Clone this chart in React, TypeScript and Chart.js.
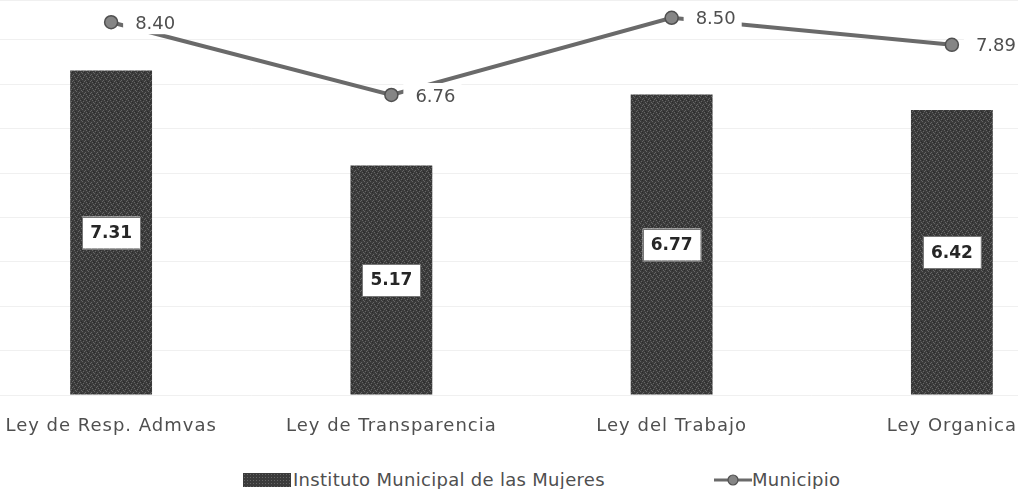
import React, { useEffect, useRef } from "react";
import { Chart, registerables } from "chart.js";

Chart.register(...registerables);

const categories = ["Ley de Resp. Admvas", "Ley de Transparencia", "Ley del Trabajo", "Ley Organica"];
const institutoValues = [7.31, 5.17, 6.77, 6.42];
const municipioValues = [8.4, 6.76, 8.5, 7.89];
const seriesNames = ["Instituto Municipal de las Mujeres", "Municipio"];
const yMin = 0;
const yMax = 8.9;
const yStep = 1;

const FONT = "'DejaVu Sans', sans-serif";
const TEXT_COLOR = "#4f4f4f";
const LINE_COLOR = "#6a6a6a";
const POINT_FILL = "#858585";
const POINT_BORDER = "#505050";

function makeTile(): HTMLCanvasElement {
  const c = document.createElement("canvas");
  c.width = 6;
  c.height = 6;
  const ctx = c.getContext("2d")!;
  ctx.fillStyle = "#3b3b3b";
  ctx.fillRect(0, 0, 6, 6);
  const specks = [
    [0, 1], [2, 4], [3, 0], [5, 3], [1, 5], [4, 2],
  ];
  ctx.fillStyle = "#666666";
  specks.forEach(([sx, sy]) => ctx.fillRect(sx, sy, 1, 1));
  ctx.fillStyle = "#2c2c2c";
  [[1, 2], [4, 5], [5, 0]].forEach(([sx, sy]) => ctx.fillRect(sx, sy, 1, 1));
  return c;
}

const spacing = {
  id: "tickSpacing",
  beforeLayout(chart: any) {
    (chart.ctx as any).letterSpacing = "1px";
  },
  afterLayout(chart: any) {
    (chart.ctx as any).letterSpacing = "0px";
  },
  beforeDraw(chart: any) {
    (chart.ctx as any).letterSpacing = "1px";
  },
  beforeDatasetsDraw(chart: any) {
    (chart.ctx as any).letterSpacing = "0px";
  },
};

const valueLabels = {
  id: "valueLabels",
  afterDatasetsDraw(chart: any) {
    const ctx: CanvasRenderingContext2D = chart.ctx;
    ctx.save();
    (ctx as any).letterSpacing = "0px";
    // bar labels
    const barMeta = chart.getDatasetMeta(0);
    ctx.font = `bold 17px ${FONT}`;
    ctx.textAlign = "center";
    ctx.textBaseline = "middle";
    barMeta.data.forEach((el: any, i: number) => {
      const { x, y, base } = el.getProps(["x", "y", "base"], true);
      const cy = (y + base) / 2;
      const txt = institutoValues[i].toFixed(2);
      const w = ctx.measureText(txt).width + 16;
      const h = 32;
      ctx.fillStyle = "#ffffff";
      ctx.fillRect(x - w / 2, cy - h / 2, w, h);
      ctx.strokeStyle = "#777777";
      ctx.lineWidth = 1;
      ctx.strokeRect(Math.round(x - w / 2) + 0.5, Math.round(cy - h / 2) + 0.5, Math.round(w), h);
      ctx.fillStyle = "#262626";
      ctx.fillText(txt, x, cy + 1);
    });
    // line labels
    const lineMeta = chart.getDatasetMeta(1);
    ctx.font = `18px ${FONT}`;
    ctx.textAlign = "left";
    lineMeta.data.forEach((el: any, i: number) => {
      const { x, y } = el.getProps(["x", "y"], true);
      const txt = municipioValues[i].toFixed(2);
      const tw = ctx.measureText(txt).width;
      ctx.fillStyle = "#ffffff";
      ctx.fillRect(x + 12, y - 12, tw + 18, 24);
      ctx.fillStyle = TEXT_COLOR;
      ctx.fillText(txt, x + 24, y + 2);
    });
    ctx.restore();
  },
};

export default function App() {
  const canvasRef = useRef<HTMLCanvasElement | null>(null);

  useEffect(() => {
    const canvas = canvasRef.current!;
    const ctx = canvas.getContext("2d")!;
    const pattern = ctx.createPattern(makeTile(), "repeat")!;
    const chart = new Chart(canvas, {
      type: "bar",
      data: {
        labels: categories,
        datasets: [
          {
            type: "bar",
            label: seriesNames[0],
            data: institutoValues,
            backgroundColor: pattern as any,
            borderWidth: 0,
            barPercentage: 0.292,
            categoryPercentage: 1,
            order: 1,
          },
          {
            type: "line",
            label: seriesNames[1],
            data: municipioValues,
            borderColor: LINE_COLOR,
            borderWidth: 4,
            pointRadius: 6.5,
            pointBackgroundColor: POINT_FILL,
            pointBorderColor: POINT_BORDER,
            pointBorderWidth: 1.5,
            tension: 0,
            clip: false as any,
            order: 0,
          } as any,
        ],
      },
      options: {
        animation: false,
        responsive: true,
        maintainAspectRatio: false,
        layout: { padding: 0 },
        plugins: {
          legend: { display: false },
          tooltip: { enabled: false },
        },
        scales: {
          x: {
            offset: true,
            grid: { display: false, drawTicks: false },
            border: { display: false },
            ticks: {
              padding: 21,
              color: TEXT_COLOR,
              font: { family: FONT, size: 18 },
              maxRotation: 0,
              autoSkip: false,
            },
            afterFit: (s: any) => {
              s.height = 50;
            },
          },
          y: {
            min: yMin,
            max: yMax,
            ticks: { display: false, stepSize: yStep },
            grid: { color: "rgba(0,0,0,0.06)", drawTicks: false },
            border: { display: false },
            afterFit: (s: any) => {
              s.width = 0;
            },
          },
        },
      },
      plugins: [spacing, valueLabels],
    });
    return () => chart.destroy();
  }, []);

  const legendText: React.CSSProperties = {
    position: "absolute",
    top: 469,
    fontFamily: FONT,
    fontSize: 18,
    letterSpacing: "0.3px",
    color: TEXT_COLOR,
    lineHeight: "22px",
    whiteSpace: "nowrap",
  };

  return (
    <div
      style={{
        position: "absolute",
        left: 0,
        top: 0,
        width: 1018,
        height: 489,
        overflow: "hidden",
        background: "#ffffff",
      }}
    >
      <div style={{ position: "absolute", left: -37, top: -8, width: 1137, height: 453 }}>
        <canvas ref={canvasRef} />
      </div>
      <div
        style={{
          position: "absolute",
          left: 243,
          top: 473,
          width: 48,
          height: 14,
          background: "#3b3b3b",
          backgroundImage: "radial-gradient(#666 0.6px, transparent 0.8px)",
          backgroundSize: "3px 3px",
        }}
      />
      <div style={{ ...legendText, left: 293 }}>{seriesNames[0]}</div>
      <svg style={{ position: "absolute", left: 714, top: 473 }} width={38} height={14}>
        <line x1={0} y1={7} x2={38} y2={7} stroke={LINE_COLOR} strokeWidth={3} />
        <circle cx={19} cy={7} r={5} fill={POINT_FILL} stroke={POINT_BORDER} strokeWidth={1.2} />
      </svg>
      <div style={{ ...legendText, left: 752 }}>{seriesNames[1]}</div>
    </div>
  );
}
